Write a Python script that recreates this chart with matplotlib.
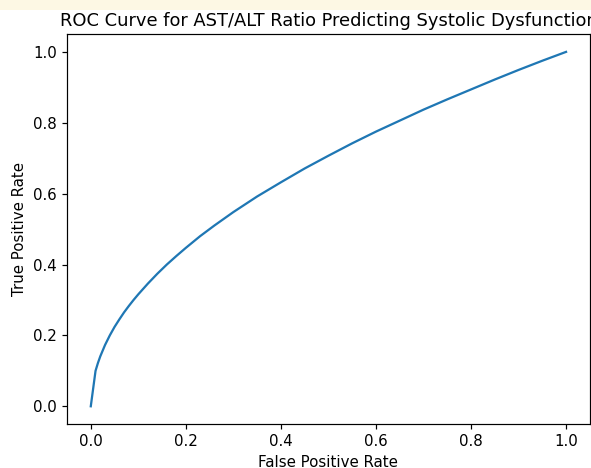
import matplotlib
matplotlib.use("Agg")
import matplotlib.pyplot as plt
from matplotlib.patches import Rectangle

# points
fpr = [0.0, 0.01, 0.015, 0.02, 0.03, 0.04, 0.05, 0.06, 0.07, 0.08, 0.09,
       0.10, 0.12, 0.14, 0.16, 0.18, 0.20, 0.23, 0.26, 0.30, 0.35, 0.40,
       0.45, 0.50, 0.55, 0.60, 0.65, 0.70, 0.75, 0.80, 0.85, 0.90, 0.95, 1.0]
tpr = [0.0, 0.100, 0.122, 0.141, 0.173, 0.200, 0.224, 0.245, 0.265, 0.283,
       0.300, 0.316, 0.346, 0.374, 0.400, 0.424, 0.447, 0.480, 0.510, 0.548,
       0.592, 0.632, 0.671, 0.707, 0.742, 0.775, 0.806, 0.837, 0.866, 0.894,
       0.922, 0.949, 0.975, 1.0]

s = 1.08
plt.rcParams.update({
    "font.size": 10 * s,
    "axes.titlesize": 12 * 1.07,
    "axes.labelsize": 10 * s,
    "xtick.labelsize": 10 * s,
    "ytick.labelsize": 10 * s,
    "xtick.major.size": 3.5 * s,
    "ytick.major.size": 3.5 * s,
    "xtick.major.width": 0.8 * s,
    "ytick.major.width": 0.8 * s,
    "axes.linewidth": 0.8 * s,
})

fig = plt.figure(figsize=(5.91, 4.68), dpi=100)
ax = fig.add_axes([0.1134, 0.094, 0.8846, 0.833])

# light strip along the top edge of the screenshot
fig.patches.append(Rectangle((0, 0.978), 1, 0.022, transform=fig.transFigure,
                             facecolor="#fdf8e4", edgecolor="none", zorder=-1))

ax.plot(fpr, tpr, color="#1f77b4", linewidth=1.5 * s)
ax.set_xlabel("False Positive Rate")
ax.set_ylabel("True Positive Rate")
ax.set_title("ROC Curve for AST/ALT Ratio Predicting Systolic Dysfunction")

fig.savefig("out.png", dpi=100)
